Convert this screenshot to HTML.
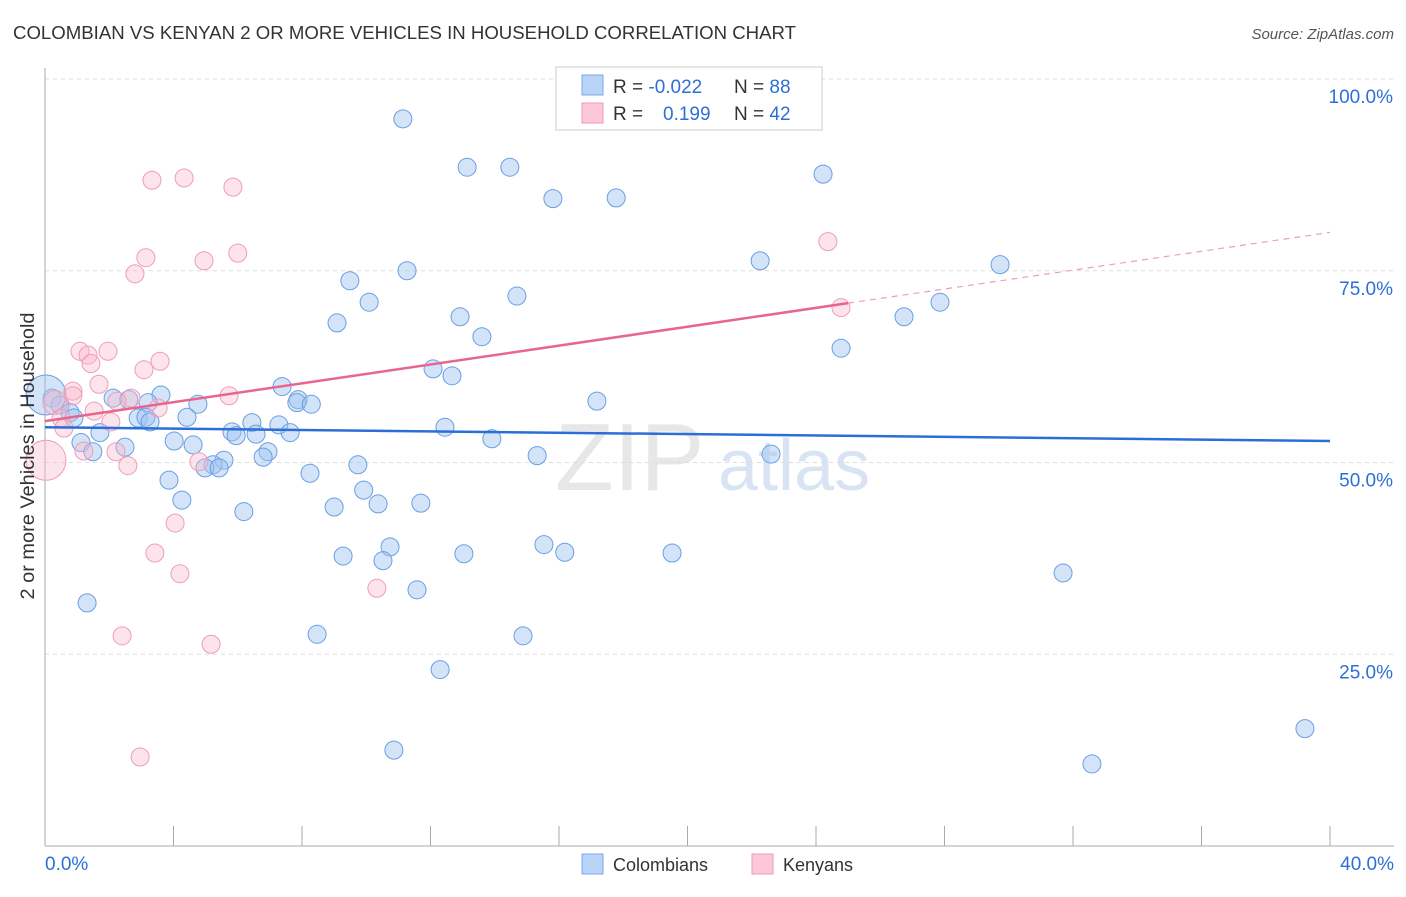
<!DOCTYPE html>
<html><head><meta charset="utf-8"><style>
body{margin:0;background:#fff;font-family:"Liberation Sans",sans-serif;}
svg text{font-family:"Liberation Sans",sans-serif;}
</style></head><body>
<svg width="1406" height="892" viewBox="0 0 1406 892" xmlns="http://www.w3.org/2000/svg" id="svg">
<text x="13" y="39" font-size="18" fill="#333" textLength="783" lengthAdjust="spacingAndGlyphs">COLOMBIAN VS KENYAN 2 OR MORE VEHICLES IN HOUSEHOLD CORRELATION CHART</text>
<text x="1394" y="39" font-size="15" fill="#555" text-anchor="end" font-style="italic">Source: ZipAtlas.com</text>
<g>
<text x="555" y="490" font-size="96" fill="#ddd" font-family="Liberation Serif" opacity="0.7">ZIP</text>
<text x="718" y="490" font-size="72" fill="#c8daf0" opacity="0.7">atlas</text>
</g>
<g id="grid"></g>
<g id="marks"></g>
<g id="lines"></g>
<text transform="translate(34,456) rotate(-90)" font-size="19" fill="#333" text-anchor="middle" textLength="287" lengthAdjust="spacingAndGlyphs">2 or more Vehicles in Household</text>
<g>
<rect x="556" y="67" width="266" height="63" fill="#fff" stroke="#ccc"/>
<rect x="582" y="75" width="21" height="20" fill="#b9d4f6" stroke="#7aa7e8"/>
<rect x="582" y="103" width="21" height="20" fill="#fcc8d8" stroke="#ef9ab6"/>
<text x="613" y="93" font-size="19" fill="#333">R = <tspan fill="#2e6fd6">-0.022</tspan></text>
<text x="734" y="93" font-size="19" fill="#333">N = <tspan fill="#2e6fd6">88</tspan></text>
<text x="613" y="120" font-size="19" fill="#333">R = </text>
<text x="663" y="120" font-size="19" fill="#2e6fd6">0.199</text>
<text x="734" y="120" font-size="19" fill="#333">N = <tspan fill="#2e6fd6">42</tspan></text>
</g>
<g>
<rect x="582" y="854" width="21" height="20" fill="#b9d4f6" stroke="#7aa7e8"/>
<text x="613" y="871" font-size="18" fill="#333">Colombians</text>
<rect x="752" y="854" width="21" height="20" fill="#fcc8d8" stroke="#ef9ab6"/>
<text x="783" y="871" font-size="18" fill="#333">Kenyans</text>
</g>
</svg>
<script>
const blueX=[11.14,13.14,14.47,15.81,17.78,24.22,22.26,29.73,11.27,9.49,14.69,10.09,27.86,26.74,12.92,9.09,13.6,24.78,12.08,12.67,7.38,17.18,3.61,2.12,2.61,3.21,4.76,7.88,7.84,8.29,0.22,0.47,0.78,0.9,2.9,3.14,3.27,4.42,6.44,7.28,12.45,1.71,5.82,6.57,5.95,7.63,13.91,1.12,4.02,4.61,2.49,1.49,6.94,6.79,15.32,22.6,5.57,5.23,4.98,5.42,9.74,8.25,3.86,9.92,4.26,10.37,11.7,9.0,6.19,15.53,10.74,16.18,19.52,13.04,9.28,10.52,31.69,11.58,1.31,8.47,14.88,12.3,39.22,10.86,32.59,0.03];
const blueY=[94.8,88.5,88.5,84.4,84.5,87.6,76.3,75.8,75.0,73.7,71.7,70.9,70.9,69.0,69.0,68.2,66.4,64.9,62.2,61.3,59.9,58.0,58.8,58.4,58.2,57.8,57.6,58.2,57.8,57.6,58.4,57.5,56.5,55.8,55.8,55.9,55.3,55.9,55.2,54.9,54.6,53.9,54.0,53.7,53.5,53.9,53.1,52.6,52.8,52.3,52.0,51.4,51.4,50.7,50.9,51.1,50.3,49.7,49.3,49.3,49.7,48.6,47.7,46.4,45.1,44.6,44.7,44.2,43.6,39.3,39.0,38.3,38.2,38.1,37.8,37.2,35.6,33.4,31.7,27.6,27.4,23.0,15.3,12.5,10.7,58.8];
const blueR=[9,9,9,9,9,9,9,9,9,9,9,9,9,9,9,9,9,9,9,9,9,9,9,9,9,9,9,9,9,9,9,9,9,9,9,9,9,9,9,9,9,9,9,9,9,9,9,9,9,9,9,9,9,9,9,9,9,9,9,9,9,9,9,9,9,9,9,9,9,9,9,9,9,9,9,9,9,9,9,9,9,9,9,9,9,20];
const pinkX=[3.33,4.33,5.85,24.37,6.0,3.14,4.95,2.8,24.78,1.09,1.96,1.34,3.58,1.43,3.08,1.68,0.87,0.87,5.73,2.68,2.24,3.52,1.53,0.31,0.5,2.05,0.59,1.21,2.21,0.03,4.79,2.58,4.05,3.42,4.2,10.33,2.4,5.17,2.96];
const pinkY=[86.8,87.1,85.9,78.8,77.3,76.7,76.3,74.6,70.2,64.5,64.5,64.0,63.2,62.9,62.1,60.2,59.3,58.7,58.7,58.4,58.0,57.1,56.7,57.8,55.8,55.3,54.5,51.5,51.4,50.3,50.1,49.6,42.1,38.2,35.5,33.6,27.4,26.3,11.6];
const pinkR=[9,9,9,9,9,9,9,9,9,9,9,9,9,9,9,9,9,9,9,9,9,9,9,12,9,9,9,9,9,20,9,9,9,9,9,9,9,9,9];
const yTicks=[25,50,75,100];
const yTickLabels=["25.0%","50.0%","75.0%","100.0%"];
const xTicks=[0,4,8,12,16,20,24,28,32,36,40];
const blueTrend=[54.6,52.8];
const pinkTrend=[55.4,80.0];
const NS="http://www.w3.org/2000/svg";
const sx=v=>45+v/40*1285, sy=v=>846-v/100*767;
function mk(tag,a,p){const e=document.createElementNS(NS,tag);for(const k in a)e.setAttribute(k,a[k]);p.appendChild(e);return e;}
const grid=document.getElementById('grid'),marks=document.getElementById('marks'),lines=document.getElementById('lines');
yTicks.forEach((t,i)=>{
 const l=mk('line',{x1:45,x2:1394,y1:sy(t),y2:sy(t),stroke:'#ddd','stroke-dasharray':'4,4'},grid);
 
 
 const tx=mk('text',{x:1393,y:sy(t)+24,'font-size':19,fill:'#2e6fd6','text-anchor':'end'},grid);
 tx.textContent=yTickLabels[i];
 
 
});
const ax=mk('line',{x1:45,x2:45,y1:68,y2:846,stroke:'#aaa'},grid);


const bx=mk('line',{x1:45,x2:1394,y1:846,y2:846,stroke:'#aaa'},grid);


xTicks.forEach(t=>{const l=mk('line',{x1:sx(t),x2:sx(t),y1:826,y2:846,stroke:'#aaa'},grid);
 
 });
const x0=mk('text',{x:45,y:870,'font-size':19,fill:'#2e6fd6'},grid);x0.textContent='0.0%';


const x1=mk('text',{x:1394,y:870,'font-size':19,fill:'#2e6fd6','text-anchor':'end'},grid);x1.textContent='40.0%';


blueX.forEach((x,i)=>{const c=mk('circle',{cx:sx(x),cy:sy(blueY[i]),r:blueR[i],fill:'rgba(160,195,240,0.45)',stroke:'#6a9ee4','stroke-width':1},marks);
 
 });
pinkX.forEach((x,i)=>{const c=mk('circle',{cx:sx(x),cy:sy(pinkY[i]),r:pinkR[i],fill:'rgba(250,185,205,0.4)',stroke:'#ee9db8','stroke-width':1},marks);
 
 });
const bl=mk('line',{x1:sx(0),y1:sy(blueTrend[0]),x2:sx(40),y2:sy(blueTrend[1]),stroke:'#2a6fd6','stroke-width':2.5},lines);


const pm=pinkTrend[0]+(pinkTrend[1]-pinkTrend[0])*25/40;
const pl=mk('line',{x1:sx(0),y1:sy(pinkTrend[0]),x2:sx(25),y2:sy(pm),stroke:'#e8658f','stroke-width':2.5},lines);


const pd=mk('line',{x1:sx(25),y1:sy(pm),x2:sx(40),y2:sy(pinkTrend[1]),stroke:'#e8a0b8','stroke-width':1.2,'stroke-dasharray':'6,5'},lines);


</script>
</body></html>
